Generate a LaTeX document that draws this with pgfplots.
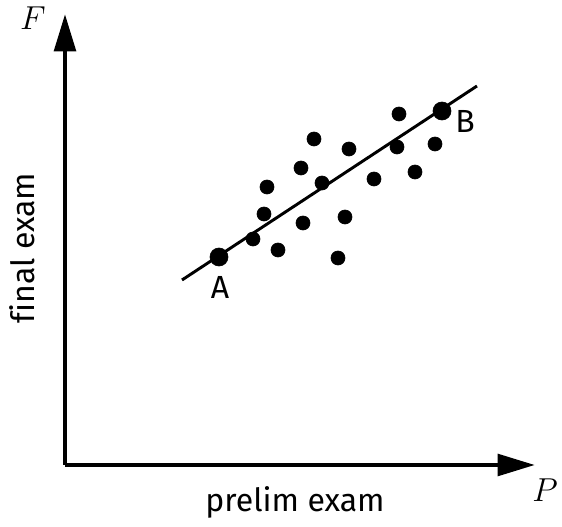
\documentclass[border=0pt]{standalone}
\usepackage{pgfplots}
\pgfplotsset{compat=1.18}
\usepackage{fontspec}
\setmainfont[Ligatures=NoCommon]{Fira Sans}
\usetikzlibrary{arrows.meta}
\begin{document}
\begin{tikzpicture}[x=0.75pt,y=0.75pt]
\useasboundingbox (0,0) rectangle (562,527);
\begin{axis}[
  at={(48.75pt,46.5pt)}, anchor=south west,
  scale only axis, width=352.5pt, height=338.25pt,
  xmin=65, xmax=535, ymin=62, ymax=513,
  axis lines=left,
  axis line style={line width=3.5pt, -{Triangle[length=28pt,width=16pt]}},
  xtick=\empty, ytick=\empty,
  clip=false,
]
% regression line (pixel coords, y flipped)
\addplot[line width=2.2pt, black] coordinates {(182,247) (477,441)};
% data points
\addplot[only marks, mark=*, mark size=5.3pt, black] coordinates {
(399,413) (314,388) (349,378) (397,380) (435,383) (301,359) (322,344)
(374,348) (415,355) (267,340) (264,313) (303,304) (345,310) (253,288)
(278,277) (338,269)};
\addplot[only marks, mark=*, mark size=6.8pt, black] coordinates {(219,270) (442,416)};
\node[font=\fontsize{24}{28}\selectfont] at (axis cs:220,240) {A};
\node[font=\fontsize{24}{28}\selectfont] at (axis cs:465,406) {B};
\node[font=\fontsize{27}{30}\selectfont] at (axis cs:33,509) {$F$};
\node[font=\fontsize{27}{30}\selectfont] at (axis cs:545,37) {$P$};
\node[font=\fontsize{24}{28}\selectfont, rotate=90] at (axis cs:22,279) {final exam};
\node[font=\fontsize{24}{28}\selectfont] at (axis cs:295,25) {prelim exam};
\end{axis}
\end{tikzpicture}
\end{document}
